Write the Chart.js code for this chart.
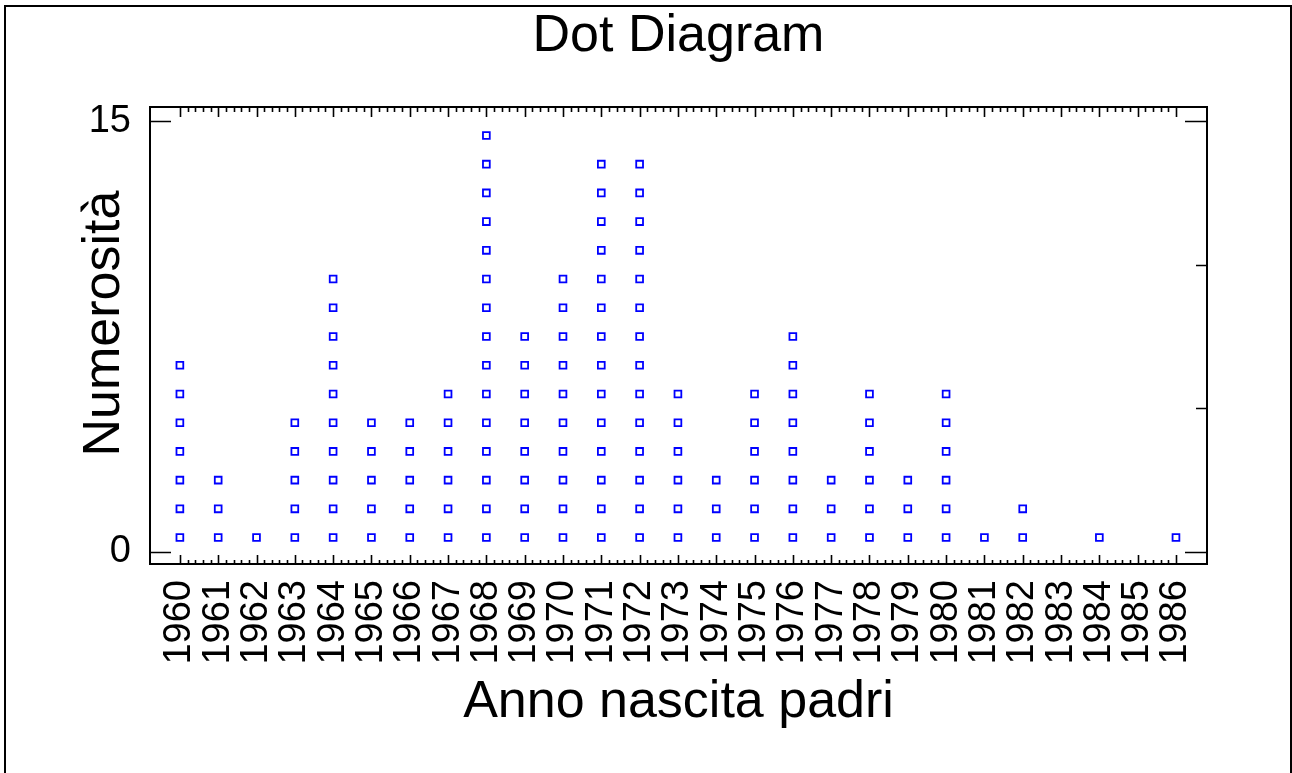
<!DOCTYPE html>
<html>
<head>
<meta charset="utf-8">
<title>Dot Diagram</title>
<script src="https://cdn.jsdelivr.net/npm/chart.js@4.4.1/dist/chart.umd.min.js"></script>
<style>
    html, body { margin: 0; padding: 0; background: #fff; }
    #wrap { width: 1292px; height: 773px; }
</style>
</head>
<body>
<div id="wrap"><canvas id="chart" width="1292" height="773"></canvas></div>
<script>
// years on the x axis and how many fathers were born in each one
const years = [1960, 1961, 1962, 1963, 1964, 1965, 1966, 1967, 1968, 1969,
    1970, 1971, 1972, 1973, 1974, 1975, 1976, 1977, 1978, 1979,
    1980, 1981, 1982, 1983, 1984, 1985, 1986];
const counts = [7, 3, 1, 5, 10, 5, 5, 6, 15, 8,
    10, 14, 14, 6, 3, 6, 8, 3, 6, 3,
    6, 1, 2, 0, 1, 0, 1];
const yTickValues = [0, 5, 10, 15];
const yTickLabels = ['0', '', '', '15'];

const FONT = "'Liberation Sans', Arial, Helvetica, sans-serif";

// one square per observation, stacked in the middle of each unit
const points = [];
years.forEach((yr, i) => {
    for (let k = 1; k <= counts[i]; k++) {
        points.push({ x: yr, y: k - 0.5 });
    }
});

const framePlugin = {
    id: 'frame',
    afterDraw(chart) {
        const { ctx, chartArea: a, scales } = chart;
        const x = scales.x;
        const y = scales.y;
        ctx.save();
        ctx.strokeStyle = '#000';

        // page border (no bottom edge in the original)
        ctx.lineWidth = 2;
        ctx.beginPath();
        ctx.moveTo(5, chart.height);
        ctx.lineTo(5, 6);
        ctx.lineTo(1291, 6);
        ctx.lineTo(1291, chart.height);
        ctx.stroke();

        // plot frame
        ctx.beginPath();
        ctx.rect(a.left, a.top, a.right - a.left, a.bottom - a.top);
        ctx.stroke();

        // inward tick marks on top and bottom
        ctx.lineWidth = 1.6;
        ctx.beginPath();
        years.forEach((yr, i) => {
            const px = Math.round(x.getPixelForValue(yr)) + 0.5;
            ctx.moveTo(px, a.bottom); ctx.lineTo(px, a.bottom - 9);
            ctx.moveTo(px, a.top); ctx.lineTo(px, a.top + 10);
            if (i < years.length - 1) {
                for (let m = 1; m < 5; m++) {
                    const mx = Math.round(x.getPixelForValue(yr + m / 5)) + 0.5;
                    ctx.moveTo(mx, a.bottom); ctx.lineTo(mx, a.bottom - 4);
                    ctx.moveTo(mx, a.top); ctx.lineTo(mx, a.top + 5);
                }
            }
        });

        // y ticks: long ones at labelled values on both sides, short ones on the right
        yTickValues.forEach((v, i) => {
            const py = Math.round(y.getPixelForValue(v)) + 0.5;
            if (yTickLabels[i]) {
                ctx.moveTo(a.left, py); ctx.lineTo(a.left + 21, py);
                ctx.moveTo(a.right, py); ctx.lineTo(a.right - 22, py);
            } else {
                ctx.moveTo(a.right, py); ctx.lineTo(a.right - 11, py);
            }
        });
        ctx.stroke();

        // y axis title, sits a little above the centre of the plot
        ctx.fillStyle = '#000';
        ctx.font = '52px ' + FONT;
        ctx.textAlign = 'center';
        ctx.textBaseline = 'middle';
        ctx.translate(105, (a.top + a.bottom) / 2 - 12);
        ctx.rotate(-Math.PI / 2);
        ctx.fillText('Numerosità', 0, 0);
        ctx.restore();
    }
};

new Chart(document.getElementById('chart'), {
    type: 'scatter',
    data: {
        datasets: [{
            data: points,
            pointStyle: 'rect',
            pointRadius: 4.8,
            pointHoverRadius: 4.8,
            borderWidth: 1.8,
            borderColor: '#0000ff',
            backgroundColor: 'rgba(0,0,0,0)'
        }]
    },
    options: {
        responsive: false,
        animation: false,
        devicePixelRatio: 1,
        events: [],
        layout: { padding: { top: 0, left: 0, right: 85, bottom: 0 } },
        plugins: {
            legend: { display: false },
            tooltip: { enabled: false },
            title: {
                display: true,
                fullSize: false,
                text: 'Dot Diagram',
                color: '#000',
                font: { family: FONT, size: 52, weight: 'normal', lineHeight: 1.2 },
                padding: { top: 5.6, bottom: 39 }
            }
        },
        scales: {
            x: {
                type: 'linear',
                position: 'bottom',
                min: 1959.22,
                max: 1986.81,
                afterBuildTicks: (s) => { s.ticks = years.map(v => ({ value: v })); },
                afterFit: (s) => { s.height = 209; },
                grid: { display: false, drawTicks: false },
                border: { display: false },
                ticks: {
                    autoSkip: false,
                    minRotation: 90,
                    maxRotation: 90,
                    padding: 16,
                    color: '#000',
                    font: { family: FONT, size: 38 },
                    callback: (v) => String(v)
                },
                title: {
                    display: true,
                    text: 'Anno nascita padri',
                    color: '#000',
                    font: { family: FONT, size: 52, lineHeight: 1.2 },
                    padding: { top: 0, bottom: 38.8 }
                }
            },
            y: {
                type: 'linear',
                position: 'left',
                min: -0.42,
                max: 15.49,
                afterBuildTicks: (s) => { s.ticks = yTickValues.map(v => ({ value: v })); },
                afterFit: (s) => { s.width = 150; },
                grid: { display: false, drawTicks: false },
                border: { display: false },
                ticks: {
                    padding: 19,
                    color: '#000',
                    font: { family: FONT, size: 38 },
                    callback: (v, i) => yTickLabels[i]
                }
            }
        }
    },
    plugins: [framePlugin]
});
</script>
</body>
</html>
